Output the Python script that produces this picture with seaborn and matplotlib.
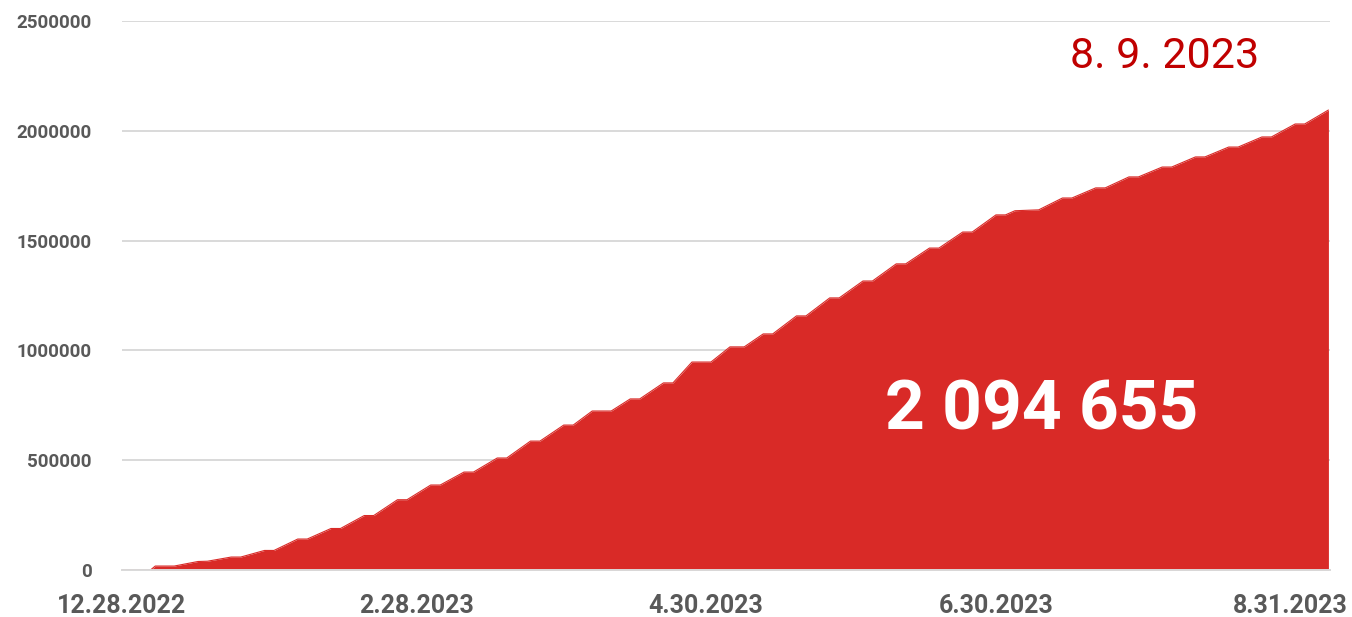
import matplotlib
matplotlib.use("Agg")
import matplotlib.pyplot as plt
import seaborn as sns
import pandas as pd

# ---- data ----
corner_dates = [
    "2022-12-28", "2023-01-03", "2023-01-04", "2023-01-08", "2023-01-13", "2023-01-15",
    "2023-01-20", "2023-01-22", "2023-01-27", "2023-01-29", "2023-02-03", "2023-02-05",
    "2023-02-10", "2023-02-12", "2023-02-17", "2023-02-19", "2023-02-24", "2023-02-26",
    "2023-03-03", "2023-03-05", "2023-03-10", "2023-03-12", "2023-03-17", "2023-03-19",
    "2023-03-24", "2023-03-26", "2023-03-31", "2023-04-02", "2023-04-06", "2023-04-10",
    "2023-04-14", "2023-04-16", "2023-04-21", "2023-04-23", "2023-04-27", "2023-05-01",
    "2023-05-05", "2023-05-08", "2023-05-12", "2023-05-14", "2023-05-19", "2023-05-21",
    "2023-05-26", "2023-05-28", "2023-06-02", "2023-06-04", "2023-06-09", "2023-06-11",
    "2023-06-16", "2023-06-18", "2023-06-23", "2023-06-25", "2023-06-30", "2023-07-02",
    "2023-07-04", "2023-07-09", "2023-07-14", "2023-07-16", "2023-07-21", "2023-07-23",
    "2023-07-28", "2023-07-30", "2023-08-04", "2023-08-06", "2023-08-11", "2023-08-13",
    "2023-08-18", "2023-08-20", "2023-08-25", "2023-08-27", "2023-09-01", "2023-09-03",
    "2023-09-08",
]
corner_values = [
    0, 0, 18000, 18000, 38700, 40000,
    59000, 59000, 89000, 89000, 141000, 141000,
    189000, 189000, 248000, 248000, 320000, 320000,
    387000, 387000, 446000, 446000, 510000, 510000,
    587000, 587000, 660000, 660000, 724000, 724000,
    779000, 779000, 852000, 852000, 947000, 947000,
    1016000, 1016000, 1075000, 1075000, 1157000, 1157000,
    1239000, 1239000, 1316000, 1316000, 1394000, 1394000,
    1466000, 1466000, 1539000, 1539000, 1617000, 1617000,
    1636000, 1640000, 1694000, 1694000, 1740000, 1740000,
    1790000, 1790000, 1835000, 1835000, 1881000, 1881000,
    1926000, 1926000, 1972000, 1972000, 2031000, 2031000,
    2094655,
]
tick_dates = ["2022-12-28", "2023-02-28", "2023-04-30", "2023-06-30", "2023-08-31"]
tick_labels = ["12.28.2022", "2.28.2023", "4.30.2023", "6.30.2023", "8.31.2023"]
y_ticks = [0, 500000, 1000000, 1500000, 2000000, 2500000]
date_label = "8. 9. 2023"
total_label = "2 094 655"

df = pd.DataFrame({"date": pd.to_datetime(corner_dates), "value": corner_values})

sns.set_theme(style="white")
plt.rcParams["font.family"] = ["Roboto", "DejaVu Sans"]

RED = "#D92A27"
GRAY_TXT = "#595959"
GRID = "#D9D9D9"

fig = plt.figure(figsize=(13.52, 6.17), dpi=100)
ax = fig.add_axes([122 / 1352, 1 - 570 / 617, (1330 - 122) / 1352, (570 - 21) / 617])

for yv in y_ticks:
    ax.axhline(yv, color=GRID, lw=1.4, zorder=0)

ax.fill_between(df["date"], 0, df["value"], color=RED, lw=0, zorder=2)
sns.lineplot(data=df, x="date", y="value", ax=ax, color=RED, lw=0.8, zorder=3)

ax.set_xlim(pd.Timestamp("2022-12-28"), pd.Timestamp("2023-09-08") + pd.Timedelta(hours=8))
ax.set_ylim(0, 2500000)

ax.set_yticks(y_ticks)
ax.set_yticklabels([str(v) for v in y_ticks], fontsize=13.5, fontweight="bold", color=GRAY_TXT)
ax.set_xticks(pd.to_datetime(tick_dates))
ax.set_xticklabels(tick_labels, fontsize=18, fontweight="bold", color=GRAY_TXT)

ax.tick_params(axis="y", length=0, pad=22)
ax.tick_params(axis="x", length=8, width=1.4, color=GRID, pad=9, direction="out")
ax.set_xlabel("")
ax.set_ylabel("")

for s in ["top", "right", "left"]:
    ax.spines[s].set_visible(False)
ax.spines["bottom"].set_color(GRID)
ax.spines["bottom"].set_linewidth(1.4)
ax.spines["bottom"].set_zorder(4)

fig.text(1165 / 1352, 1 - 57 / 617, date_label, ha="center", va="center",
         fontsize=31, color="#C00000")
fig.text(1042 / 1352, 1 - 411 / 617, total_label, ha="center", va="center",
         fontsize=50, fontweight="bold", color="white")

fig.savefig("out.png", dpi=100)
